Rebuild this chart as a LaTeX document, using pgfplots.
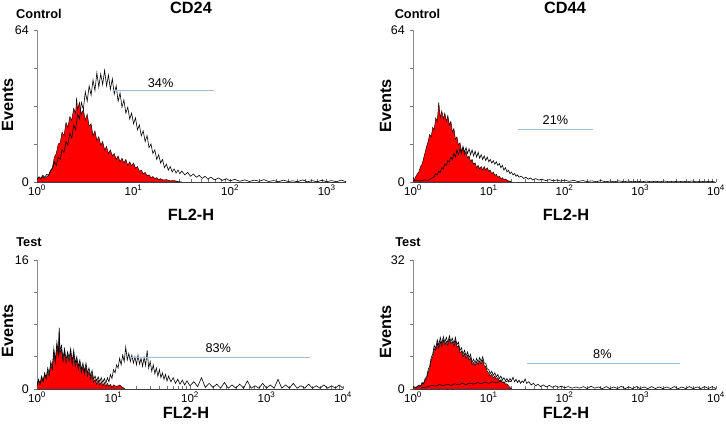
\documentclass[border=0pt]{standalone}
\usepackage{pgfplots}
\pgfplotsset{compat=1.18}
\usepackage{fontspec}
\setmainfont{Liberation Sans}
\definecolor{gate}{RGB}{160,192,214}
\definecolor{fcsred}{RGB}{255,0,0}
\pgfplotsset{
  fcs/.style={
    scale only axis,
    axis x line*=bottom, axis y line*=left,
    axis line style={-, line width=0.6pt},
    x axis line style={black!75},
    y axis line style={black!45},
    xmin=0, ymin=0,
    xtick={0,1,2,3,4},
    xticklabels={10\textsuperscript{0},10\textsuperscript{1},10\textsuperscript{2},10\textsuperscript{3},10\textsuperscript{4}},
    minor xtick={0.301,0.477,0.602,0.699,0.778,0.845,0.903,0.954,1.301,1.477,1.602,1.699,1.778,1.845,1.903,1.954,2.301,2.477,2.602,2.699,2.778,2.845,2.903,2.954,3.301,3.477,3.602,3.699,3.778,3.845,3.903,3.954},
    xtick align=inside, ytick align=outside,
    major tick length=3pt, minor tick length=2.5pt,
    tick style={black!55, line width=0.5pt},
    x tick label style={font=\fontsize{11.5}{12}\selectfont, inner sep=0pt, yshift=-3pt},
    y tick label style={font=\fontsize{12.5}{13}\selectfont, inner sep=0.5pt, xshift=-4.5pt},
    clip=true,
  },
  redfill/.style={fill=fcsred, draw=black, line width=0.45pt},
  sample/.style={black, line width=0.6pt},
  gateline/.style={gate, line width=0.9pt},
}
\newcommand{\pctfont}{\fontsize{12.7}{13}\selectfont}
\newcommand{\bigfont}{\bfseries\fontsize{16.3}{18}\selectfont}
\newcommand{\midfont}{\bfseries\fontsize{12.8}{14}\selectfont}
\begin{document}
\begin{tikzpicture}
\useasboundingbox (0,0) rectangle (726pt,428pt);

% ---------------- Top left: CD24 control ----------------
\begin{axis}[fcs, at={(37pt,246pt)}, anchor=south west, width=309pt, height=152pt,
  xmax=3.2, ymax=64, xtick={0,1,2,3},
  xticklabels={10\textsuperscript{0},10\textsuperscript{1},10\textsuperscript{2},10\textsuperscript{3}},
  ytick={0,16,32,48,64}, yticklabels={0,,,,64}]
\addplot[redfill] coordinates {(0.00,1.2)(0.02,2.0)(0.04,1.4)(0.06,2.4)(0.08,1.6)(0.10,2.2)(0.12,2.8)(0.14,4.5)(0.16,6.2)(0.18,10.5)(0.20,12.0)(0.22,16.0)(0.24,16.5)(0.26,21.0)(0.28,19.5)(0.30,25.0)(0.32,23.0)(0.34,27.5)(0.36,26.0)(0.38,31.0)(0.40,29.0)(0.41,35.5)(0.42,30.5)(0.44,33.5)(0.46,28.5)(0.48,30.5)(0.50,26.0)(0.52,28.5)(0.54,23.5)(0.56,24.5)(0.58,19.5)(0.60,21.5)(0.62,17.5)(0.64,19.0)(0.66,15.5)(0.68,17.0)(0.70,13.5)(0.72,15.0)(0.74,12.0)(0.76,13.5)(0.78,11.0)(0.80,12.0)(0.82,9.5)(0.84,11.0)(0.86,8.5)(0.88,10.0)(0.90,8.0)(0.92,9.5)(0.94,7.0)(0.96,8.5)(0.98,6.8)(1.00,8.0)(1.02,5.8)(1.04,6.5)(1.06,4.5)(1.08,5.0)(1.10,3.5)(1.12,4.0)(1.14,2.6)(1.16,3.0)(1.18,1.8)(1.20,2.3)(1.22,1.4)(1.24,1.8)(1.26,1.0)(1.28,1.4)(1.30,0.8)(1.34,1.0)(1.38,0.5)(1.42,0.6)(1.46,0.2)(1.50,0)} \closedcycle;
\addplot[sample] coordinates {(0.00,1.0)(0.02,2.2)(0.04,1.5)(0.06,2.8)(0.08,2.0)(0.10,3.2)(0.12,2.8)(0.14,5.0)(0.16,5.5)(0.18,8.5)(0.20,7.0)(0.22,10.5)(0.24,9.5)(0.26,13.5)(0.28,12.5)(0.30,17.0)(0.32,15.5)(0.34,20.5)(0.36,18.5)(0.38,24.0)(0.40,22.0)(0.42,28.5)(0.44,26.5)(0.46,33.5)(0.48,30.5)(0.50,38.0)(0.52,34.0)(0.54,40.5)(0.56,36.5)(0.58,43.0)(0.60,38.5)(0.62,46.0)(0.64,40.0)(0.66,45.5)(0.68,41.0)(0.70,47.0)(0.72,40.5)(0.74,45.0)(0.76,39.0)(0.78,43.5)(0.80,37.0)(0.82,40.5)(0.84,34.0)(0.86,37.5)(0.88,31.5)(0.90,34.5)(0.92,29.0)(0.94,31.5)(0.96,26.5)(0.98,29.0)(1.00,24.5)(1.02,27.0)(1.04,22.0)(1.06,24.0)(1.08,19.5)(1.10,21.5)(1.12,17.0)(1.14,19.5)(1.16,14.5)(1.18,16.0)(1.20,12.0)(1.22,13.5)(1.24,9.5)(1.26,11.5)(1.28,8.0)(1.30,9.5)(1.32,6.0)(1.34,7.5)(1.36,5.0)(1.38,6.5)(1.40,4.2)(1.42,5.5)(1.44,3.8)(1.46,5.0)(1.48,3.5)(1.50,4.6)(1.53,3.0)(1.56,4.0)(1.59,2.4)(1.62,3.4)(1.65,2.0)(1.68,2.8)(1.71,1.5)(1.74,2.4)(1.77,1.2)(1.80,2.0)(1.84,0.9)(1.88,1.7)(1.92,0.7)(1.96,1.4)(2.00,0.5)(2.05,1.1)(2.10,0.3)(2.15,0.9)(2.20,0.2)(2.25,0.8)(2.30,0.3)(2.35,1.0)(2.40,0.2)(2.45,0.6)(2.50,0.1)(2.55,0.8)(2.60,0.2)(2.65,0.5)(2.70,0.1)(2.75,0.9)(2.80,0.1)(2.85,0.6)(2.90,0.1)(2.95,0.7)(3.00,0.1)(3.05,0.6)(3.10,0.1)(3.15,0.8)(3.20,0.1)};
\addplot[gateline] coordinates {(0.79,38.4)(1.83,38.4)};
\node[font=\pctfont] at (axis cs:1.28,41.8) {34\%};
\end{axis}

% ---------------- Top right: CD44 control ----------------
\begin{axis}[fcs, at={(413pt,246pt)}, anchor=south west, width=303pt, height=152pt,
  xmax=4, ymax=64, ytick={0,16,32,48,64}, yticklabels={0,,,,64}]
\addplot[redfill] coordinates {(0.00,2.0)(0.02,1.0)(0.04,2.5)(0.06,3.5)(0.08,4.5)(0.10,6.5)(0.12,7.5)(0.14,10.0)(0.16,12.5)(0.18,15.0)(0.20,17.0)(0.22,20.0)(0.24,19.0)(0.26,23.0)(0.28,22.0)(0.30,27.0)(0.32,25.5)(0.34,33.5)(0.36,27.0)(0.38,30.0)(0.40,26.5)(0.42,29.0)(0.44,25.5)(0.46,28.0)(0.48,24.0)(0.50,25.5)(0.52,21.0)(0.54,22.5)(0.56,18.0)(0.58,19.0)(0.60,15.5)(0.62,16.5)(0.64,13.0)(0.66,14.5)(0.68,11.5)(0.70,13.0)(0.72,10.0)(0.74,11.0)(0.76,8.5)(0.78,9.5)(0.80,7.5)(0.82,8.0)(0.84,6.0)(0.86,7.0)(0.88,5.5)(0.90,6.5)(0.92,5.0)(0.94,6.5)(0.96,5.0)(0.98,6.0)(1.00,4.5)(1.02,5.0)(1.04,3.5)(1.06,4.2)(1.08,2.8)(1.10,3.2)(1.12,2.0)(1.14,2.4)(1.16,1.4)(1.18,1.8)(1.20,1.0)(1.22,1.2)(1.25,0.6)(1.28,0.3)(1.30,0)} \closedcycle;
\addplot[sample] coordinates {(0.00,0.5)(0.05,0.8)(0.10,0.4)(0.15,0.9)(0.20,0.7)(0.24,1.5)(0.28,2.2)(0.30,3.5)(0.32,3.0)(0.34,4.5)(0.36,4.0)(0.38,6.0)(0.40,5.5)(0.42,7.5)(0.44,7.0)(0.46,9.0)(0.48,8.5)(0.50,10.5)(0.52,9.5)(0.54,12.0)(0.56,10.5)(0.58,13.5)(0.60,11.5)(0.62,14.0)(0.64,12.0)(0.66,15.0)(0.68,12.5)(0.70,14.5)(0.72,12.0)(0.74,14.0)(0.76,11.5)(0.78,13.5)(0.80,11.0)(0.82,13.0)(0.84,10.5)(0.86,12.5)(0.88,10.0)(0.90,11.5)(0.92,9.5)(0.94,11.0)(0.96,9.0)(0.98,10.5)(1.00,8.5)(1.02,9.5)(1.04,8.0)(1.06,9.0)(1.08,7.5)(1.10,8.5)(1.12,7.0)(1.14,7.8)(1.16,6.0)(1.18,7.0)(1.20,5.0)(1.22,6.0)(1.24,4.2)(1.26,5.0)(1.28,3.5)(1.30,4.2)(1.32,3.0)(1.34,3.6)(1.36,2.4)(1.38,3.0)(1.40,2.0)(1.43,2.5)(1.46,1.5)(1.49,2.0)(1.52,1.2)(1.55,1.7)(1.58,0.9)(1.62,1.4)(1.66,0.8)(1.70,1.2)(1.75,0.6)(1.80,1.0)(1.85,0.5)(1.90,0.9)(1.95,0.4)(2.00,0.8)(2.06,0.3)(2.12,0.7)(2.18,0.2)(2.24,0.6)(2.30,0.2)(2.36,0.5)(2.42,0.1)(2.48,0.6)(2.54,0.1)(2.60,0.4)(2.66,0.1)(2.72,0.5)(2.78,0.1)(2.84,0.4)(2.90,0.1)(2.96,0.3)(3.02,0.1)(3.08,0.4)(3.14,0.1)(3.20,0.3)(3.26,0.1)(3.32,0.4)(3.38,0.1)(3.44,0.3)(3.50,0.1)(3.56,0.3)(3.62,0.1)(3.68,0.4)(3.74,0.1)(3.80,0.3)(3.86,0.1)(3.92,0.3)(3.98,0.1)};
\addplot[gateline] coordinates {(1.38,22.3)(2.37,22.3)};
\node[font=\pctfont] at (axis cs:1.88,26.1) {21\%};
\end{axis}

% ---------------- Bottom left: CD24 test ----------------
\begin{axis}[fcs, at={(37pt,39pt)}, anchor=south west, width=306pt, height=129pt,
  xmax=4, ymax=16, ytick={0,4,8,12,16}, yticklabels={0,,,,16}]
\addplot[redfill] coordinates {(0.00,0.4)(0.02,1.0)(0.04,0.5)(0.06,1.4)(0.08,0.9)(0.10,1.8)(0.12,1.2)(0.14,2.2)(0.16,1.6)(0.18,3.0)(0.20,2.4)(0.22,4.6)(0.24,3.2)(0.26,5.4)(0.28,4.0)(0.29,7.2)(0.30,4.4)(0.32,5.0)(0.34,3.4)(0.36,4.6)(0.38,3.2)(0.40,4.2)(0.42,3.4)(0.44,4.6)(0.46,3.0)(0.48,4.4)(0.50,2.8)(0.52,3.6)(0.54,2.4)(0.56,3.2)(0.58,2.0)(0.60,2.8)(0.62,1.8)(0.64,2.8)(0.66,1.6)(0.68,2.2)(0.70,1.2)(0.72,1.9)(0.74,0.8)(0.76,1.2)(0.78,0.6)(0.80,1.1)(0.82,0.5)(0.84,0.9)(0.86,0.4)(0.88,0.8)(0.90,0.3)(0.92,0.7)(0.94,0.3)(0.96,0.6)(0.98,0.2)(1.00,0.5)(1.04,0.3)(1.08,0.5)(1.12,0.2)(1.15,0)} \closedcycle;
\addplot[sample] coordinates {(0.00,0.5)(0.02,1.2)(0.04,0.7)(0.06,1.6)(0.08,1.0)(0.10,2.0)(0.12,1.4)(0.14,2.6)(0.16,1.9)(0.18,3.4)(0.20,2.6)(0.22,5.0)(0.24,3.5)(0.26,5.8)(0.28,4.3)(0.29,7.6)(0.30,4.8)(0.32,5.4)(0.34,3.8)(0.36,5.0)(0.38,3.6)(0.40,4.6)(0.42,3.8)(0.44,5.0)(0.46,3.4)(0.48,4.8)(0.50,3.2)(0.52,4.0)(0.54,2.8)(0.56,3.6)(0.58,2.4)(0.60,3.2)(0.62,2.2)(0.64,3.2)(0.66,2.0)(0.68,2.6)(0.70,1.6)(0.72,2.3)(0.74,1.2)(0.76,1.6)(0.78,1.0)(0.80,1.5)(0.82,0.9)(0.84,1.4)(0.86,0.8)(0.88,1.3)(0.90,0.7)(0.92,1.4)(0.94,0.9)(0.96,1.8)(0.98,1.3)(1.00,2.4)(1.02,2.0)(1.04,3.0)(1.06,2.6)(1.08,3.8)(1.10,3.0)(1.12,4.2)(1.14,3.4)(1.16,5.2)(1.18,3.6)(1.20,4.4)(1.22,3.4)(1.24,4.2)(1.26,3.2)(1.28,4.0)(1.30,3.0)(1.32,4.2)(1.34,3.1)(1.36,3.8)(1.38,2.8)(1.40,3.9)(1.42,2.9)(1.44,4.8)(1.46,2.6)(1.48,3.4)(1.50,2.2)(1.52,3.0)(1.54,1.9)(1.56,2.6)(1.58,1.6)(1.60,2.4)(1.62,1.4)(1.64,2.0)(1.66,1.2)(1.68,1.8)(1.70,1.0)(1.72,1.6)(1.75,0.9)(1.78,1.4)(1.81,0.7)(1.84,1.2)(1.87,0.6)(1.90,1.1)(1.93,0.5)(1.96,1.0)(2.00,0.4)(2.05,0.9)(2.10,0.3)(2.15,1.4)(2.20,0.2)(2.25,0.7)(2.30,0.2)(2.35,0.6)(2.40,0.1)(2.45,0.8)(2.50,0.1)(2.55,0.5)(2.60,0.1)(2.65,0.6)(2.70,0.1)(2.75,1.0)(2.80,0.1)(2.85,0.4)(2.90,0.1)(2.95,0.7)(3.00,0.1)(3.05,0.5)(3.10,0.1)(3.15,1.2)(3.20,0.1)(3.25,0.5)(3.30,0.1)(3.35,0.7)(3.40,0.1)(3.45,0.4)(3.50,0.1)(3.55,0.6)(3.60,0.1)(3.65,0.4)(3.70,0.1)(3.75,0.5)(3.80,0.1)(3.85,0.4)(3.90,0.1)(3.95,0.5)(4.00,0.1)};
\addplot[gateline] coordinates {(1.22,3.95)(3.57,3.95)};
\node[font=\pctfont] at (axis cs:2.37,5.1) {83\%};
\end{axis}

% ---------------- Bottom right: CD44 test ----------------
\begin{axis}[fcs, at={(413pt,39pt)}, anchor=south west, width=303pt, height=129pt,
  xmax=4, ymax=32, ytick={0,8,16,24,32}, yticklabels={0,,,,32}]
\addplot[redfill] coordinates {(0.00,0.5)(0.04,0.3)(0.08,0.8)(0.10,0.6)(0.12,1.4)(0.14,1.2)(0.16,2.2)(0.18,2.6)(0.20,4.2)(0.22,5.0)(0.24,7.2)(0.26,8.0)(0.28,10.0)(0.30,9.6)(0.32,11.4)(0.34,10.2)(0.36,11.8)(0.38,10.6)(0.40,12.2)(0.42,11.0)(0.44,11.8)(0.46,10.8)(0.48,12.4)(0.50,11.2)(0.52,11.8)(0.54,10.6)(0.56,12.0)(0.58,10.4)(0.60,10.8)(0.62,9.0)(0.64,9.4)(0.66,8.0)(0.68,8.8)(0.70,7.6)(0.72,8.4)(0.74,7.2)(0.76,7.8)(0.78,6.0)(0.80,6.6)(0.82,5.8)(0.84,6.8)(0.86,6.0)(0.88,7.0)(0.90,6.2)(0.92,7.2)(0.94,5.8)(0.96,5.6)(0.98,4.4)(1.00,4.0)(1.02,3.2)(1.04,3.6)(1.06,2.8)(1.08,3.2)(1.10,2.4)(1.12,2.8)(1.14,2.0)(1.16,2.3)(1.18,1.6)(1.20,1.8)(1.22,1.2)(1.24,1.3)(1.26,0.8)(1.28,0.4)(1.30,0)} \closedcycle;
\addplot[sample] coordinates {(0.10,0.2)(0.20,0.6)(0.25,0.9)(0.30,0.7)(0.35,1.1)(0.40,0.8)(0.45,1.2)(0.50,0.9)(0.55,1.3)(0.60,1.0)(0.65,1.4)(0.70,1.1)(0.75,1.5)(0.80,1.2)(0.85,1.6)(0.90,1.3)(0.95,1.7)(1.00,1.4)(1.05,1.8)(1.10,1.5)(1.15,1.9)(1.20,1.6)(1.25,2.0)(1.30,1.8)};
\addplot[sample] coordinates {(0.00,0.6)(0.04,0.4)(0.08,1.0)(0.10,0.7)(0.12,1.6)(0.14,1.4)(0.16,2.6)(0.18,3.0)(0.20,4.8)(0.22,5.6)(0.24,7.8)(0.26,8.6)(0.28,10.8)(0.30,10.0)(0.32,12.2)(0.34,10.8)(0.36,12.8)(0.38,11.2)(0.40,13.0)(0.42,11.6)(0.44,12.8)(0.46,11.4)(0.48,13.2)(0.50,11.8)(0.52,12.6)(0.54,11.2)(0.56,12.8)(0.58,11.0)(0.60,11.6)(0.62,9.6)(0.64,10.2)(0.66,8.6)(0.68,9.6)(0.70,8.2)(0.72,9.2)(0.74,7.8)(0.76,8.6)(0.78,6.6)(0.80,7.4)(0.82,6.4)(0.84,7.6)(0.86,6.6)(0.88,7.8)(0.90,6.8)(0.92,8.0)(0.94,6.4)(0.96,6.4)(0.98,5.0)(1.00,4.8)(1.02,3.8)(1.04,4.4)(1.06,3.4)(1.08,4.0)(1.10,3.0)(1.12,3.6)(1.14,2.6)(1.16,3.2)(1.18,2.2)(1.20,2.8)(1.22,2.0)(1.24,2.6)(1.26,1.8)(1.28,2.6)(1.30,2.0)(1.32,2.9)(1.34,1.8)(1.36,2.4)(1.38,1.6)(1.40,2.2)(1.42,1.4)(1.44,2.0)(1.46,1.6)(1.48,2.5)(1.50,1.4)(1.53,1.8)(1.56,1.0)(1.59,1.4)(1.62,0.8)(1.65,1.2)(1.68,0.6)(1.72,1.0)(1.76,0.5)(1.80,0.9)(1.84,0.4)(1.88,0.8)(1.92,0.4)(1.96,0.7)(2.00,0.3)(2.05,0.6)(2.10,0.2)(2.15,0.5)(2.20,0.2)(2.25,0.6)(2.30,0.1)(2.35,0.7)(2.40,0.2)(2.45,0.5)(2.50,0.1)(2.55,0.6)(2.60,0.1)(2.65,0.5)(2.70,0.1)(2.75,0.7)(2.80,0.1)(2.85,0.5)(2.90,0.1)(2.95,0.6)(3.00,0.1)(3.05,0.5)(3.10,0.1)(3.15,0.6)(3.20,0.1)(3.25,0.5)(3.30,0.1)(3.35,0.5)(3.40,0.1)(3.45,0.6)(3.50,0.1)(3.55,0.5)(3.60,0.1)(3.65,0.6)(3.70,0.1)(3.75,0.5)(3.80,0.1)(3.85,0.6)(3.90,0.1)(3.95,0.6)(4.00,0.1)};
\addplot[gateline] coordinates {(1.51,6.45)(3.53,6.45)};
\node[font=\pctfont] at (axis cs:2.5,8.7) {8\%};
\end{axis}

% ---------------- Text ----------------
\begin{scope}[every node/.style={inner sep=0pt}]
\node[font=\bigfont] at (191pt,420pt) {CD24};
\node[font=\bigfont] at (565pt,420pt) {CD44};
\node[font=\midfont] at (39pt,414pt) {Control};
\node[font=\midfont] at (417.5pt,414pt) {Control};
\node[font=\midfont] at (29pt,186pt) {Test};
\node[font=\midfont] at (408pt,186pt) {Test};
\node[font=\bigfont, rotate=90] at (7.5pt,323pt) {Events};
\node[font=\bigfont, rotate=90] at (385.5pt,322pt) {Events};
\node[font=\bigfont, rotate=90] at (7.5pt,97pt) {Events};
\node[font=\bigfont, rotate=90] at (385.5pt,96pt) {Events};
\node[font=\bigfont] at (191pt,213pt) {FL2-H};
\node[font=\bigfont] at (566pt,213pt) {FL2-H};
\node[font=\bigfont] at (186pt,15pt) {FL2-H};
\node[font=\bigfont] at (566pt,15pt) {FL2-H};
\end{scope}
\end{tikzpicture}
\end{document}
